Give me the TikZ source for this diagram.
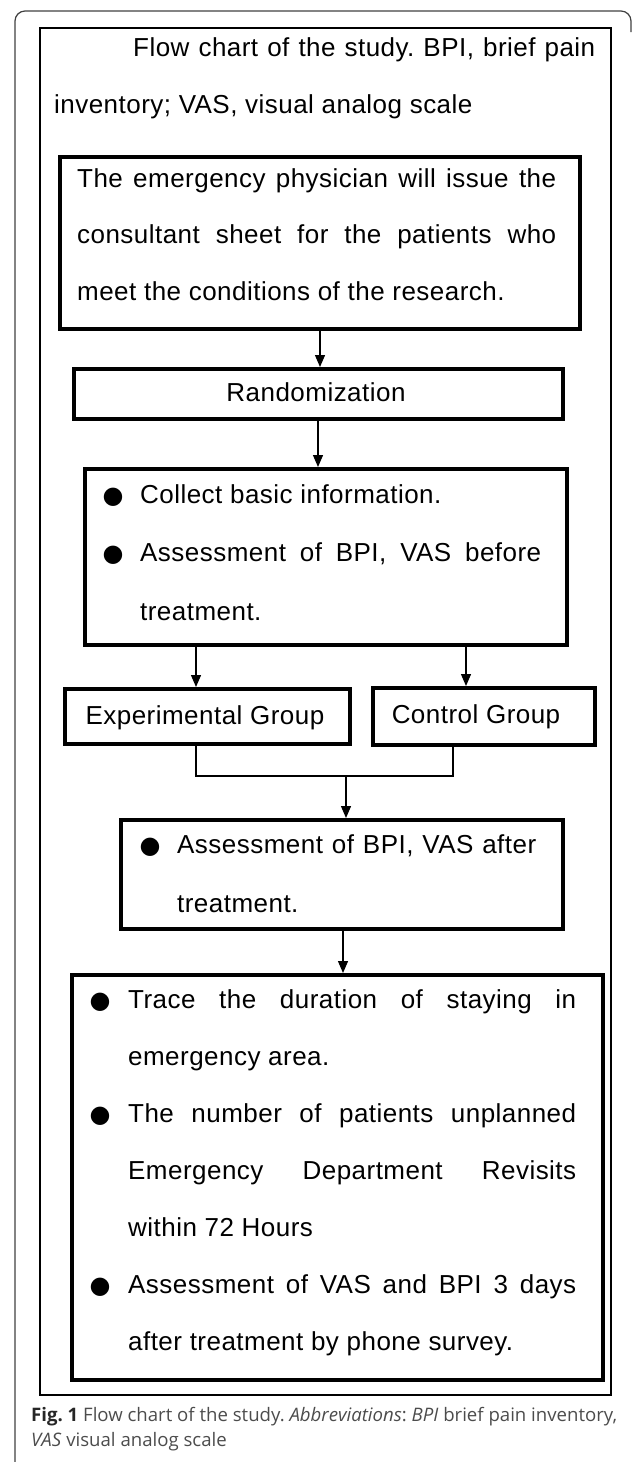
\documentclass[tikz,border=0pt]{standalone}
\usepackage{fontspec}
\setmainfont{Liberation Sans}
\newfontfamily\boxfont[LetterSpace=1.8]{Liberation Sans}
\newfontfamily\capfont{Open Sans}
\newfontfamily\dotfont{DejaVu Sans}
\usetikzlibrary{arrows.meta}
\frenchspacing
\tikzset{
  bx/.style={draw, line width=3.5pt, anchor=north west, inner sep=0pt},
  tx/.style={anchor=base west, inner sep=0pt, font=\boxfont\fontsize{26}{26}\selectfont},
  txc/.style={anchor=base, inner sep=0pt, font=\boxfont\fontsize{26}{26}\selectfont},
  dot/.style={anchor=base, inner sep=0pt, font=\dotfont\fontsize{24}{24}\selectfont},
  arr/.style={-{Triangle[length=12pt,width=10pt]}, line width=1.3pt},
  link/.style={line width=1.3pt},
  captxt/.style={anchor=base west, inner sep=0pt, font=\capfont\fontsize{18.6}{18.6}\selectfont, text=black!70},
}
\begin{document}
\begin{tikzpicture}[x=1pt,y=-1pt]
\useasboundingbox (0,0) rectangle (633,1462);
% outer frame
\draw[line width=1.2pt, black!75, rounded corners=10pt] (15,1462) -- (15,11) -- (631,11) -- (631,32);
% inner frame
\draw[line width=2pt] (40,28) rectangle (611,1395);
% title
\node[tx] (t1) at (133,56) {\makebox[462pt][s]{Flow chart of the study. BPI, brief pain}};
\node[tx] (t2) at (54,113) {inventory; VAS, visual analog scale};
% box 1
\node[bx, minimum width=520pt, minimum height=172pt] (b1) at (58,155) {};
\node[tx] (b1l1) at (77,187) {\makebox[479pt][s]{The emergency physician will issue the}};
\node[tx] (b1l2) at (77,243) {\makebox[479pt][s]{consultant sheet for the patients who}};
\node[tx] (b1l3) at (77,300) {meet the conditions of the research.};
% box 2
\node[bx, minimum width=489pt, minimum height=50pt] (b2) at (72,367) {};
\node[txc] (b2l1) at (316,401) {Randomization};
% box 3
\node[bx, minimum width=482pt, minimum height=176pt] (b3) at (83,467) {};
\node[dot] (b3d1) at (113,503) {●};
\node[tx] (b3l1) at (140,503) {Collect basic information.};
\node[dot] (b3d2) at (113,561) {●};
\node[tx] (b3l2) at (140,561) {\makebox[401pt][s]{Assessment of BPI, VAS before}};
\node[tx] (b3l3) at (140,620) {treatment.};
% groups
\node[bx, minimum width=285pt, minimum height=55pt] (ex) at (63,687) {};
\node[txc] (exl) at (205,724) {Experimental Group};
\node[bx, minimum width=222pt, minimum height=57pt] (ct) at (371,686) {};
\node[txc] (ctl) at (476,723) {Control Group};
% box 5
\node[bx, minimum width=442pt, minimum height=109pt] (b5) at (119,818) {};
\node[dot] (b5d1) at (150,853) {●};
\node[tx] (b5l1) at (177,853) {\makebox[359pt][s]{Assessment of BPI, VAS after}};
\node[tx] (b5l2) at (177,912) {treatment.};
% box 6
\node[bx, minimum width=531pt, minimum height=405pt] (b6) at (70,973) {};
\node[dot] (b6d1) at (100,1008) {●};
\node[tx] (b6l1) at (128,1008) {\makebox[448pt][s]{Trace the duration of staying in}};
\node[tx] (b6l2) at (128,1065) {emergency area.};
\node[dot] (b6d2) at (100,1122) {●};
\node[tx] (b6l3) at (128,1122) {\makebox[448pt][s]{The number of patients unplanned}};
\node[tx] (b6l4) at (128,1179) {\makebox[448pt][s]{Emergency Department Revisits}};
\node[tx] (b6l5) at (128,1236) {within 72 Hours};
\node[dot] (b6d3) at (100,1293) {●};
\node[tx] (b6l6) at (128,1293) {\makebox[448pt][s]{Assessment of VAS and BPI 3 days}};
\node[tx] (b6l7) at (128,1350) {after treatment by phone survey.};
% connectors
\coordinate (a1) at (320,0);
\coordinate (a2) at (318,0);
\coordinate (ca) at (196,0);
\coordinate (cb) at (466,0);
\coordinate (j1) at (196,776);
\coordinate (j2) at (453,776);
\coordinate (jm) at (346,776);
\coordinate (a5) at (343,0);
\draw[arr] (b1.south -| a1) -- (b2.north -| a1);
\draw[arr] (b2.south -| a2) -- (b3.north -| a2);
\draw[arr] (b3.south -| ca) -- (ex.north -| ca);
\draw[arr] (b3.south -| cb) -- (ct.north -| cb);
\draw[link] (ex.south -| j1) -- (j1) -- (j2) -- (ct.south -| j2);
\draw[arr] (jm) -- (b5.north -| jm);
\draw[arr] (b5.south -| a5) -- (b6.north -| a5);
% caption
\node[captxt] (cap1) at (31,1421) {\textbf{\color{black!85}Fig. 1} Flow chart of the study. \textit{Abbreviations}: \textit{BPI} brief pain inventory,};
\node[captxt] (cap2) at (31,1446) {\textit{VAS} visual analog scale};
\end{tikzpicture}
\end{document}
